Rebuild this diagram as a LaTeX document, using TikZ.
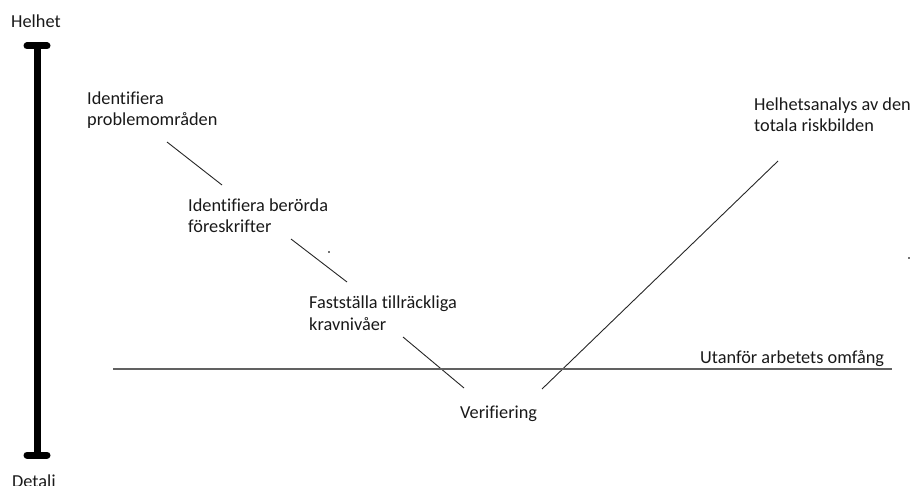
\documentclass[tikz,border=0pt]{standalone}
\usepackage{fontspec}
\setmainfont{Carlito}[Ligatures=NoCommon]
\begin{document}
\begin{tikzpicture}[x=1pt,y=-1pt,
  lbl/.style={anchor=base west, inner sep=0pt, align=left, text=black!90,
    font=\fontsize{18.3}{21.5}\selectfont},
  arm/.style={draw=black!85, line width=0.9pt},
  scalebar/.style={draw=black, line width=7pt, line cap=round},
  limit/.style={draw=black!62, line width=2pt},
  speck/.style={fill=black!55}]
  \useasboundingbox (0,0) rectangle (917,486);

  % vertical scale from whole to detail
  \node[lbl] (top) at (11,28) {Helhet};
  \node[lbl] (bottom) at (12,487) {Detalj};
  \coordinate (barTop) at (37,46);
  \coordinate (barBot) at (37,455);
  \draw[scalebar] (barTop) -- (barBot);
  \draw[scalebar] ([xshift=-10pt]barTop) -- ([xshift=10pt]barTop);
  \draw[scalebar] ([xshift=-10pt]barBot) -- ([xshift=10pt]barBot);

  % steps (node base = baseline of the last line)
  \node[lbl] (s1) at (87,126) {Identifiera\\problemområden};
  \node[lbl] (s2) at (188,233) {Identifiera berörda\\föreskrifter};
  \node[lbl] (s3) at (309,330) {Fastställa tillräckliga\\kravnivåer};
  \node[lbl] (s4) at (460,418) {Verifiering};
  \node[lbl] (s5) at (754,132) {Helhetsanalys av den\\totala riskbilden};

  \coordinate (a1) at (167,142);
  \coordinate (b1) at (222,185);
  \coordinate (a2) at (291,239);
  \coordinate (b2) at (347,282);
  \coordinate (a3) at (403,337);
  \coordinate (b3) at (464,388);
  \coordinate (a4) at (542,389);
  \coordinate (b4) at (778,161);
  \draw[arm] (a1) -- (b1);
  \draw[arm] (a2) -- (b2);
  \draw[arm] (a3) -- (b3);
  \draw[arm] (a4) -- (b4);

  % scope boundary
  \node[lbl] (scope) at (700,363) {Utanför arbetets omfång};
  \coordinate (lineL) at (113,369);
  \coordinate (lineR) at (892,369);
  \draw[limit] (lineL) -- (lineR);

  % stray specks
  \fill[speck] (328,251) rectangle (330,253);
  \fill[speck] (908,257) rectangle (910,259);
\end{tikzpicture}
\end{document}
